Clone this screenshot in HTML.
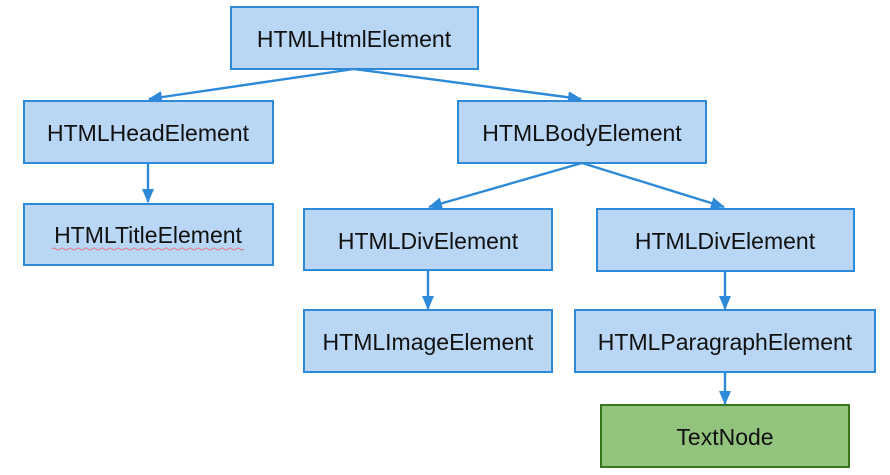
<!DOCTYPE html>
<html><head><meta charset="utf-8"><style>
body{margin:0;background:#fff;width:890px;height:470px;overflow:hidden}
svg text{font-family:"Liberation Sans",Arial,sans-serif;font-size:23px;fill:#111;text-anchor:middle;dominant-baseline:central}
</style></head><body>
<svg width="890" height="470" xmlns="http://www.w3.org/2000/svg">
<defs><marker id="b" markerWidth="14" markerHeight="14" refX="13" refY="7" orient="auto" markerUnits="userSpaceOnUse"><path d="M0,1 L14,7 L0,13 z" fill="#2e8ad8"/></marker></defs>
<g stroke="#2e8ad8" stroke-width="2.4" fill="none">
<line x1="354" y1="69" x2="149" y2="99" marker-end="url(#b)"/>
<line x1="354" y1="69" x2="581" y2="99" marker-end="url(#b)"/>
<line x1="148" y1="163" x2="148" y2="202" marker-end="url(#b)"/>
<line x1="582" y1="163" x2="429" y2="207" marker-end="url(#b)"/>
<line x1="582" y1="163" x2="724" y2="207" marker-end="url(#b)"/>
<line x1="428" y1="270" x2="428" y2="309" marker-end="url(#b)"/>
<line x1="725" y1="271" x2="725" y2="309" marker-end="url(#b)"/>
<line x1="725" y1="372" x2="725" y2="404" marker-end="url(#b)"/>
</g>
<g fill="#b9d7f5" stroke="#2e8ad8" stroke-width="2">
<rect x="231" y="7" width="247" height="62"/>
<rect x="24" y="101" width="249" height="62"/>
<rect x="24" y="204" width="249" height="61"/>
<rect x="458" y="101" width="248" height="62"/>
<rect x="304" y="209" width="248" height="61"/>
<rect x="597" y="209" width="257" height="62"/>
<rect x="304" y="310" width="248" height="62"/>
<rect x="575" y="310" width="300" height="62"/>
</g>
<rect x="601" y="405" width="248" height="62" fill="#93c47d" stroke="#38761d" stroke-width="2"/>
<text x="354" y="39">HTMLHtmlElement</text>
<text x="148" y="133">HTMLHeadElement</text>
<text x="148" y="235">HTMLTitleElement</text>
<path d="M52,249 q2,-2 4,0 t4,0 t4,0 t4,0 t4,0 t4,0 t4,0 t4,0 t4,0 t4,0 t4,0 t4,0 t4,0 t4,0 t4,0 t4,0 t4,0 t4,0 t4,0 t4,0 t4,0 t4,0 t4,0 t4,0 t4,0 t4,0 t4,0 t4,0 t4,0 t4,0 t4,0 t4,0 t4,0 t4,0 t4,0 t4,0 t4,0 t4,0 t4,0 t4,0 t4,0 t4,0 t4,0 t4,0 t4,0 t4,0 t4,0 t4,0" stroke="#e55" stroke-width="0.8" fill="none"/>
<text x="582" y="133">HTMLBodyElement</text>
<text x="428" y="241">HTMLDivElement</text>
<text x="725" y="241">HTMLDivElement</text>
<text x="428" y="342">HTMLImageElement</text>
<text x="725" y="342">HTMLParagraphElement</text>
<text x="725" y="437">TextNode</text>
</svg>
</body></html>
